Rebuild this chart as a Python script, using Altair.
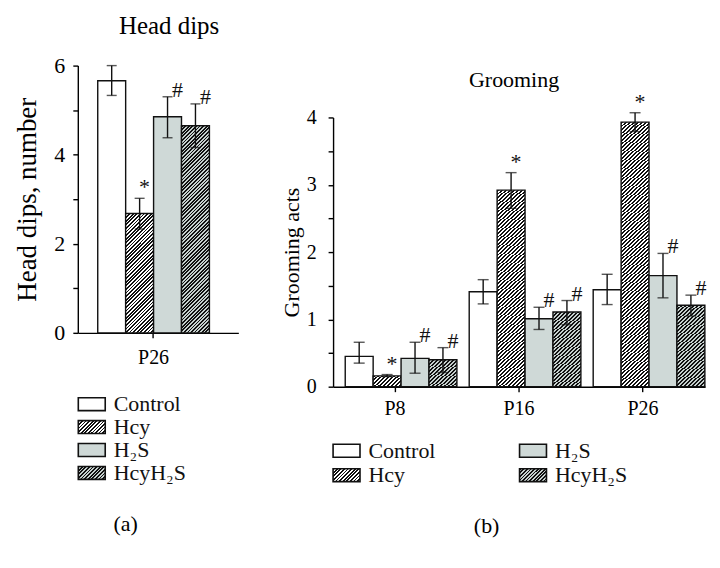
import altair as alt

FONT = "Liberation Serif"

TREATMENTS = ["Control", "Hcy", "H2S", "HcyH2S"]
TREAT_LABELS = ["Control", "Hcy", "H₂S", "HcyH₂S"]

# (a) Head dips at P26
HD_DAYS = ["P26"]
HD_MEAN = [5.66, 2.68, 4.85, 4.65]
HD_LOW = [5.33, 2.33, 4.38, 4.16]
HD_HIGH = [6.00, 3.02, 5.30, 5.14]
HD_SIG = ["", "*", "#", "#"]

# (b) Grooming acts
GR_DAYS = ["P8", "P16", "P26"]
GR_CONTROL = [0.45, 1.41, 1.44]
GR_CONTROL_LOW = [0.35, 1.23, 1.22]
GR_CONTROL_HIGH = [0.66, 1.59, 1.67]
GR_HCY = [0.16, 2.92, 3.93]
GR_HCY_LOW = [0.15, 2.65, 3.79]
GR_HCY_HIGH = [0.18, 3.18, 4.07]
GR_H2S = [0.42, 1.01, 1.65]
GR_H2S_LOW = [0.20, 0.85, 1.32]
GR_H2S_HIGH = [0.66, 1.18, 1.98]
GR_HCYH2S = [0.40, 1.11, 1.21]
GR_HCYH2S_LOW = [0.21, 0.92, 1.05]
GR_HCYH2S_HIGH = [0.58, 1.28, 1.36]
GR_SIG = ["", "*", "#", "#"]

# ---- style ----
WHITE = "#ffffff"
GREY = "#cfd9d7"
GREY_HATCH_BG = "#c6d0ce"
INK = "#111111"

A_W, A_H, A_MAX = 161, 268, 6
B_W, B_H, B_MAX = 373, 270, 4
A_BAR = 28
B_BAR = 25
LEG_W, LEG_H = 27, 13


def hatch(w, h, bg, period=3.6, frac=0.5):
    h = max(h, 0.5)
    k = (w + h) / (w * w + h * h)
    n = (w + h) / period
    stops = []
    i = 0
    while i < n:
        a = min(i / n, 1.0)
        b = min((i + frac) / n, 1.0)
        c = min((i + 1) / n, 1.0)
        stops += [
            {"offset": round(a, 5), "color": INK},
            {"offset": round(b, 5), "color": INK},
            {"offset": round(b, 5), "color": bg},
            {"offset": round(c, 5), "color": bg},
        ]
        i += 1
    return {"gradient": "linear", "x1": 0, "y1": 0,
            "x2": round(w * k, 5), "y2": round(h * k, 5), "stops": stops}


def fill_for(treat, w, h):
    if treat == "Control":
        return WHITE
    if treat == "H2S":
        return GREY
    if treat == "Hcy":
        return hatch(w, h, WHITE)
    return hatch(w, h, GREY_HATCH_BG)


# ---- data tables ----
a_vals = []
for i, t in enumerate(TREATMENTS):
    a_vals.append({"day": HD_DAYS[0], "treat": t, "mean": HD_MEAN[i],
                   "low": HD_LOW[i], "high": HD_HIGH[i], "sig": HD_SIG[i],
                   "fill": fill_for(t, A_BAR, HD_MEAN[i] * A_H / A_MAX)})

gr_means = [GR_CONTROL, GR_HCY, GR_H2S, GR_HCYH2S]
gr_lows = [GR_CONTROL_LOW, GR_HCY_LOW, GR_H2S_LOW, GR_HCYH2S_LOW]
gr_highs = [GR_CONTROL_HIGH, GR_HCY_HIGH, GR_H2S_HIGH, GR_HCYH2S_HIGH]
b_vals = []
for j, d in enumerate(GR_DAYS):
    for i, t in enumerate(TREATMENTS):
        b_vals.append({"day": d, "treat": t, "mean": gr_means[i][j],
                       "low": gr_lows[i][j], "high": gr_highs[i][j], "sig": GR_SIG[i],
                       "fill": fill_for(t, B_BAR, gr_means[i][j] * B_H / B_MAX)})


def panel(values, days, width, height, ymax, ticks, label_mod, xscale,
          title, title_size, title_dx, title_offset, ytitle, ytitle_size,
          ylabel_size, ylabel_pad, ytitle_pad, xlabel_size, xlabel_pad, cap):
    base = alt.Chart(alt.Data(values=values))
    x = alt.X("day:N", sort=days, scale=xscale,
              axis=alt.Axis(title=None, labelAngle=0, labelFontSize=xlabel_size,
                            labelPadding=xlabel_pad))
    xo = alt.XOffset("treat:N", sort=TREATMENTS, scale=alt.Scale(domain=TREATMENTS))
    ysc = alt.Scale(domain=[0, ymax], nice=False, zero=True)
    yax = alt.Axis(title=ytitle, values=ticks, titleFontSize=ytitle_size,
                   labelFontSize=ylabel_size, labelPadding=ylabel_pad,
                   titlePadding=ytitle_pad,
                   labelExpr=f"datum.value % {label_mod} === 0 ? format(datum.value, 'd') : ''")
    bars = base.mark_bar(stroke=INK, strokeWidth=1.4).encode(
        x=x, xOffset=xo, y=alt.Y("mean:Q", scale=ysc, axis=yax),
        fill=alt.Fill("fill:N", scale=None))
    rules = base.mark_rule(color=INK, strokeWidth=1.4).encode(
        x=x, xOffset=xo, y=alt.Y("low:Q", scale=ysc, axis=yax), y2="high:Q")
    cap_hi = base.mark_tick(color=INK, size=cap, thickness=1.4, orient="horizontal").encode(
        x=x, xOffset=xo, y=alt.Y("high:Q", scale=ysc, axis=yax))
    cap_lo = base.mark_tick(color=INK, size=cap, thickness=1.4, orient="horizontal").encode(
        x=x, xOffset=xo, y=alt.Y("low:Q", scale=ysc, axis=yax))
    star = base.transform_filter("datum.sig === '*'").mark_text(
        font=FONT, fontSize=22, color=INK, align="center", baseline="alphabetic",
        dx=5, dy=-4).encode(x=x, xOffset=xo, y=alt.Y("high:Q", scale=ysc, axis=yax),
                             text="sig:N")
    hsh = base.transform_filter("datum.sig === '#'").mark_text(
        font=FONT, fontSize=22, color=INK, align="center", baseline="alphabetic",
        dx=10, dy=0).encode(x=x, xOffset=xo, y=alt.Y("high:Q", scale=ysc, axis=yax),
                            text="sig:N")
    return alt.layer(bars, rules, cap_hi, cap_lo, star, hsh).properties(
        width=width, height=height,
        title=alt.TitleParams(title, fontSize=title_size, font=FONT, fontWeight="normal",
                              dx=title_dx, offset=title_offset, color="black"))


plot_a = panel(a_vals, HD_DAYS, A_W, A_H, A_MAX, [0, 1, 2, 3, 4, 5, 6], 2,
               alt.Scale(paddingInner=0, paddingOuter=0.21875, align=0.408),
               "Head dips", 25, 11, 16, "Head dips, number", 27, 22, 8, 12, 20, 10, 10)

plot_b = panel(b_vals, GR_DAYS, B_W, B_H, B_MAX, [i * 0.5 for i in range(9)], 1,
               alt.Scale(paddingInner=0.196, paddingOuter=0.098),
               "Grooming", 22, -5, -1, "Grooming acts", 22, 20, 12, 3, 20, 7, 11)


# ---- legends ----
def legend(rows, cols, width, height, pad, caption, cap_dx, cap_offset):
    vals = []
    for i, t in enumerate(TREATMENTS):
        vals.append({"treat": t, "label": TREAT_LABELS[i], "row": rows[i], "col": cols[i],
                     "fill": fill_for(t, LEG_W, LEG_H)})
    base = alt.Chart(alt.Data(values=vals)).encode(
        x=alt.X("col:O", scale=alt.Scale(type="point", padding=pad), axis=None),
        y=alt.Y("row:O", scale=alt.Scale(type="point", padding=0.5), axis=None))
    boxes = base.mark_point(shape="M-1,-0.48H1V0.48H-1Z", size=LEG_W * LEG_W, filled=True,
                            opacity=1, stroke=INK, strokeWidth=1.6).encode(
        fill=alt.Fill("fill:N", scale=None))
    labels = base.mark_text(font=FONT, fontSize=22, align="left", baseline="middle",
                            dx=22, color=INK).encode(text="label:N")
    return alt.layer(boxes, labels).properties(
        width=width, height=height,
        title=alt.TitleParams(caption, orient="bottom", fontSize=22, font=FONT,
                              fontWeight="normal", dx=cap_dx, offset=cap_offset,
                              color="black"))


leg_a = legend([0, 1, 2, 3], [0, 0, 0, 0], 28, 92, 0.5, "(a)", 34, 30)
leg_b = legend([0, 1, 0, 1], [0, 0, 1, 1], 214, 49, 0.0722, "(b)", 47, 29)


def spacer(h):
    # invisible block that only reserves vertical room
    return alt.Chart(alt.Data(values=[{"a": 1}])).mark_rect(opacity=0).encode(
        x=alt.value(0), x2=alt.value(1), y=alt.value(0), y2=alt.value(h)
    ).properties(width=1, height=h)


col_a = alt.vconcat(spacer(1), alt.vconcat(plot_a, leg_a, spacing=25), spacing=0)
col_b = alt.vconcat(spacer(56), alt.vconcat(plot_b, leg_b, spacing=20), spacing=0)

chart = alt.hconcat(col_a, col_b, spacing=42).properties(
    padding={"left": 6, "top": 4, "right": 5, "bottom": 5},
    background="white",
).configure_view(stroke=None).configure_axis(
    domainColor="black", tickColor="black", labelColor="black", titleColor="black",
    labelFont=FONT, titleFont=FONT, titleFontWeight="normal",
    domainWidth=1.4, tickWidth=1.4, tickSize=5, grid=False,
).configure_title(font=FONT, fontWeight="normal")

chart.save("out.html", embed_options={"renderer": "svg", "actions": False})
